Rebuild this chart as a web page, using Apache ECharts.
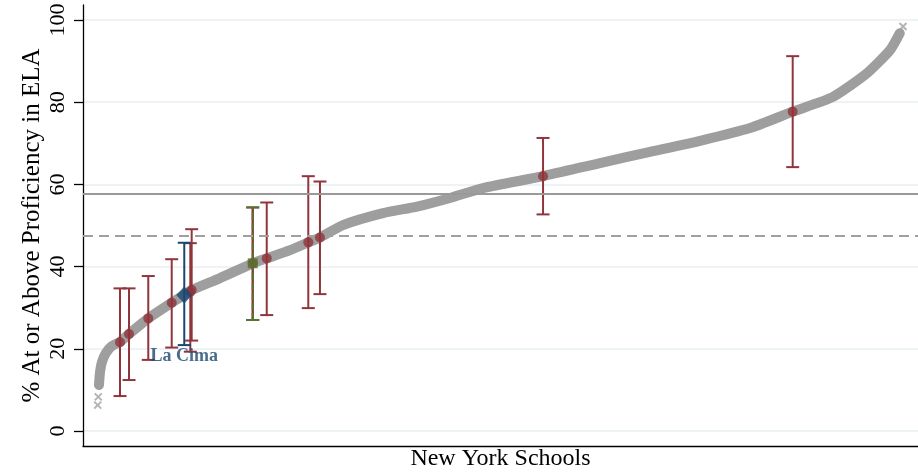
<!DOCTYPE html>
<html><head><meta charset="utf-8">
<script src="https://cdn.jsdelivr.net/npm/echarts@6/dist/echarts.min.js"></script>
<style>html,body{margin:0;padding:0;background:#fff}#c{width:918px;height:473px}</style>
</head><body><div id="c"></div>
<script>
// Sorted school proficiency curve (x = school rank percentile, y = % at/above proficiency)
const curveRank  = [0.16, 0.29, 0.53, 1.03, 1.78, 2.77, 3.89, 6.28, 9.19, 10.75, 11.67, 15.19, 19.25, 20.99, 23.88, 26.15, 27.6, 30.46, 35.43, 39.65, 43.75, 47.85, 55.3, 62.37, 68.58, 74.8, 81.0, 86.3, 91.3, 95.5, 98.4, 99.6];
const curveValue = [11.2, 14.4, 16.8, 19.0, 20.7, 21.7, 23.6, 27.4, 31.2, 33.1, 34.3, 37.2, 40.8, 42.0, 44.0, 45.9, 47.1, 50.1, 53.0, 54.6, 56.7, 59.1, 62.0, 65.2, 67.9, 70.6, 73.7, 77.7, 81.3, 87.0, 92.7, 96.8];
// Individually visible extreme schools
const tailRank  = [0, 0.07, 100];
const tailValue = [6.3, 8.3, 98.4];

// Comparison schools (red) with confidence ranges
const redRank  = [2.77, 3.89, 6.28, 9.19, 11.5, 11.67, 19.25, 20.99, 26.15, 27.6, 55.3, 86.3];
const redValue = [21.6, 23.6, 27.4, 31.2, 33.8, 34.3, 40.8, 42.0, 45.9, 47.1, 62.0, 77.7];
const redLow   = [8.5, 12.4, 17.3, 20.3, 19.3, 22.0, 27.0, 28.2, 29.9, 33.3, 52.7, 64.2];
const redHigh  = [34.7, 34.7, 37.7, 41.8, 45.7, 49.1, 54.4, 55.6, 62.0, 60.7, 71.3, 91.2];

// La Cima (blue)
const cimaName  = ['La Cima'];
const cimaRank  = [10.75];
const cimaValue = [33.1];
const cimaLow   = [20.9];
const cimaHigh  = [45.8];

// Green school
const greenRank  = [19.25];
const greenValue = [40.8];
const greenLow   = [27.0];
const greenHigh  = [54.4];

// Reference lines
const refSolid  = 57.7;
const refDashed = 47.5;

const yTicks = [0, 20, 40, 60, 80, 100];

const RED = '#90353b', NAVY = '#1a476f', GREEN = '#55752f', GREY = '#a0a0a0';
const FONT = 'Liberation Serif';

function zip(...arrs){ return arrs[0].map((_, i) => arrs.map(a => a[i])); }

function errorBar(color, dash, under) {
  return function (params, api) {
    const x = api.value(0), lo = api.value(1), hi = api.value(2);
    const p1 = api.coord([x, lo]), p2 = api.coord([x, hi]);
    const cw = 6.5;
    const children = [];
    if (under) {
      children.push({type:'line', shape:{x1:p1[0], y1:p1[1], x2:p2[0], y2:p2[1]}, style:{stroke:under, lineWidth:2}});
    }
    children.push({type:'line', shape:{x1:p1[0], y1:p1[1], x2:p2[0], y2:p2[1]}, style:{stroke:color, lineWidth:2, lineDash:dash}});
    children.push({type:'line', shape:{x1:p1[0]-cw, y1:p1[1], x2:p1[0]+cw, y2:p1[1]}, style:{stroke:color, lineWidth:2}});
    children.push({type:'line', shape:{x1:p2[0]-cw, y1:p2[1], x2:p2[0]+cw, y2:p2[1]}, style:{stroke:color, lineWidth:2}});
    return {type:'group', children};
  };
}

const chart = echarts.init(document.getElementById('c'), null, {renderer:'canvas'});
chart.setOption({
  animation: false,
  backgroundColor: '#fff',
  grid: {left: 83, right: 0, top: 5, bottom: 27, containLabel: false, outerBoundsMode: 'none'},
  xAxis: {
    type: 'value', min: -1.825, max: 101.86,
    axisLine: {show: true, onZero: false, lineStyle: {color: '#000', width: 1.3}},
    axisTick: {show: false}, axisLabel: {show: false}, splitLine: {show: false},
    name: 'New York Schools', nameLocation: 'middle', nameGap: 1, nameMoveOverlap: false,
    nameTextStyle: {fontFamily: FONT, fontSize: 24, color: '#000', verticalAlign: 'top'}
  },
  yAxis: {
    type: 'value', min: -3.65, max: 103.65,
    axisLine: {show: true, onZero: false, lineStyle: {color: '#000', width: 1.3}},
    axisTick: {show: true, length: 9, customValues: yTicks, lineStyle: {color: '#000', width: 1.3}},
    axisLabel: {customValues: yTicks, rotate: 90, margin: 14, fontFamily: FONT, fontSize: 22, color: '#000'},
    splitLine: {show: true, lineStyle: {color: '#e9f1f3', width: 1.5}},
    name: '% At or Above Proficiency in ELA', nameLocation: 'middle', nameRotate: 90, nameGap: 38,
    nameMoveOverlap: false,
    nameTextStyle: {fontFamily: FONT, fontSize: 25, color: '#000'}
  },
  series: [
    {
      type: 'line', data: [], z: 1, silent: true,
      markLine: {
        silent: true, symbol: 'none', label: {show: false},
        data: [
          {yAxis: refSolid, lineStyle: {color: '#999', width: 2, type: 'solid'}},
          {yAxis: refDashed, lineStyle: {color: GREY, width: 2, type: [10, 6]}}
        ]
      }
    },
    {
      type: 'line', data: zip(curveRank, curveValue), z: 2, showSymbol: false, symbol: 'none',
      smooth: 0.2,
      lineStyle: {color: '#9e9e9e', width: 10, cap: 'round', join: 'round', opacity: 1}
    },
    {
      type: 'scatter', data: zip(tailRank, tailValue), z: 2,
      symbol: 'path://M0 0L10 10M10 0L0 10', symbolSize: 7,
      itemStyle: {color: 'transparent', borderColor: GREY, borderWidth: 2}
    },
    {
      type: 'custom', z: 3, renderItem: errorBar(RED, null),
      encode: {x: 0, y: [1, 2]},
      data: zip(redRank, redLow, redHigh)
    },
    {
      type: 'custom', z: 4, renderItem: errorBar(NAVY, null),
      encode: {x: 0, y: [1, 2]},
      data: zip(cimaRank, cimaLow, cimaHigh)
    },
    {
      type: 'custom', z: 4, renderItem: errorBar(GREEN, [7, 3], RED),
      encode: {x: 0, y: [1, 2]},
      data: zip(greenRank, greenLow, greenHigh)
    },
    {
      type: 'scatter', z: 5, symbol: 'circle', symbolSize: 10,
      itemStyle: {color: RED},
      data: zip(redRank, redValue)
    },
    {
      type: 'scatter', z: 6, symbol: 'rect', symbolSize: 10,
      itemStyle: {color: GREEN},
      data: zip(greenRank, greenValue)
    },
    {
      type: 'scatter', z: 6, symbol: 'diamond', symbolSize: [16, 17],
      itemStyle: {color: NAVY},
      data: zip(cimaRank, cimaValue)
    },
    {
      type: 'scatter', z: 7, symbolSize: 0,
      data: cimaRank.map((r, i) => ({value: [r, cimaLow[i]], name: cimaName[i]})),
      label: {show: true, position: 'bottom', distance: 2, formatter: '{b}',
        fontFamily: FONT, fontWeight: 'bold', fontSize: 18, color: NAVY}
    }
  ]
});
</script>
</body></html>
